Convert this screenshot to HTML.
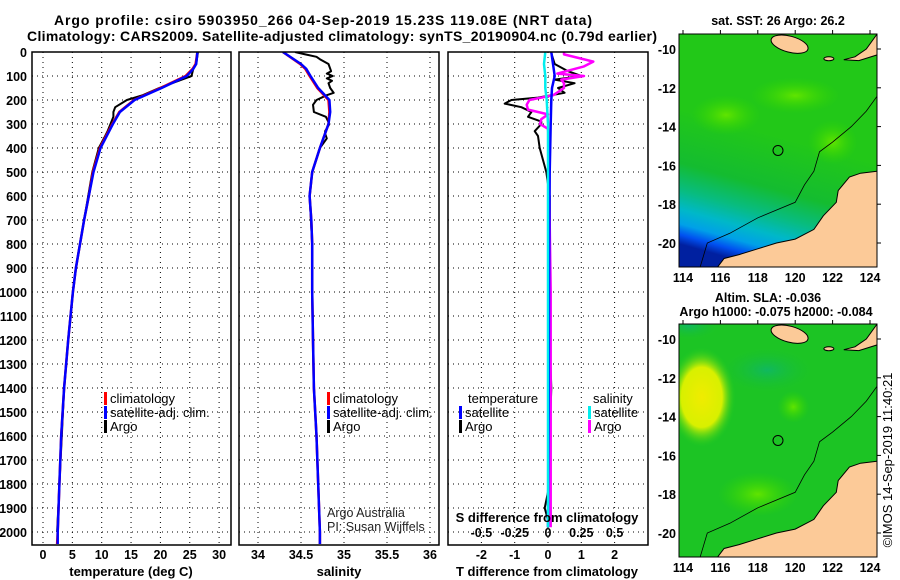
<!DOCTYPE html>
<html><head><meta charset="utf-8"><style>
html,body{margin:0;padding:0;background:#fff;}
svg{display:block;font-family:"Liberation Sans",sans-serif;}
.b{font-weight:bold;}
</style></head><body>
<svg id="fig" width="900" height="580" viewBox="0 0 900 580" xmlns="http://www.w3.org/2000/svg">
<defs>
<linearGradient id="sstg" x1="0.55" y1="0.45" x2="0.42" y2="1">
<stop offset="0" stop-color="#22c818"/><stop offset="0.4" stop-color="#14bc30"/><stop offset="0.6" stop-color="#08bc80"/><stop offset="0.74" stop-color="#00b8c8"/><stop offset="0.85" stop-color="#00a0e8"/><stop offset="0.93" stop-color="#0050f0"/><stop offset="1" stop-color="#0020a0"/>
</linearGradient>
<radialGradient id="yel" cx="0.5" cy="0.5" r="0.5"><stop offset="0" stop-color="#f0ec00"/><stop offset="0.6" stop-color="#d8f000"/><stop offset="1" stop-color="#20cc20" stop-opacity="0"/></radialGradient>
<radialGradient id="lg" cx="0.5" cy="0.5" r="0.5"><stop offset="0" stop-color="#60e400"/><stop offset="1" stop-color="#30d400" stop-opacity="0"/></radialGradient>
<radialGradient id="tq" cx="0.5" cy="0.5" r="0.5"><stop offset="0" stop-color="#10b860"/><stop offset="1" stop-color="#18c030" stop-opacity="0"/></radialGradient>
<clipPath id="c1"><rect x="32" y="52" width="199" height="493"/></clipPath>
<clipPath id="c2"><rect x="239" y="52" width="200" height="493"/></clipPath>
<clipPath id="c3"><rect x="448" y="52" width="200" height="493"/></clipPath>
<clipPath id="m1"><rect x="679" y="34" width="198" height="233"/></clipPath>
<clipPath id="m2"><rect x="679" y="324" width="198" height="233"/></clipPath>
</defs>
<text class="b" x="54" y="25" font-size="14" textLength="538">Argo profile: csiro 5903950_266 04-Sep-2019 15.23S 119.08E (NRT data)</text>
<text class="b" x="27" y="41" font-size="14" textLength="630">Climatology: CARS2009. Satellite-adjusted climatology: synTS_20190904.nc (0.79d earlier)</text>
<g id="plots"></g>
<g id="maps"></g>
<text x="892" y="460" font-size="13" transform="rotate(-90 892 460)" text-anchor="middle">©IMOS 14-Sep-2019 11:40:21</text>
</svg>
<script>
// ---------- data ----------
const depthTicks = [0,100,200,300,400,500,600,700,800,900,1000,1100,1200,1300,1400,1500,1600,1700,1800,1900,2000];
const tempTicks = [0,5,10,15,20,25,30];
const salTicks = [34,34.5,35,35.5,36];
const salTickLabels = ["34","34.5","35","35.5","36"];
const tdiffTicks = [-2,-1,0,1,2];
const sdiffTickLabels = ["-0.5","-0.25","0","0.25","0.5"];
const sdiffTicks = [-0.5,-0.25,0,0.25,0.5];

const climDepth = [0,50,70,100,150,200,250,300,400,500,600,700,800,900,1000,1200,1400,1600,1800,2000,2050];
const climTemp = [26.3,26.0,25.5,24.3,20.0,15.5,13.0,11.8,9.7,8.5,7.8,7.0,6.3,5.6,5.1,4.3,3.6,3.1,2.8,2.5,2.4];
const satTemp = [26.3,26.1,25.6,24.5,20.2,15.6,13.1,11.9,9.8,8.6,7.8,7.0,6.3,5.6,5.1,4.3,3.6,3.1,2.8,2.5,2.5];
const argoDepth = [0,50,70,100,130,150,180,200,230,250,270,300,330,350,400,500,600,700,800,900,1000,1200,1400,1600,1800,1900,2000];
const argoTemp = [26.4,26.1,25.6,25.3,22.0,19.8,17.0,14.3,12.3,12.0,12.0,11.5,11.0,10.6,9.5,8.4,7.7,7.0,6.3,5.6,5.1,4.3,3.6,3.2,2.8,2.6,2.4];

const climSal = [34.29,34.49,34.55,34.6,34.69,34.82,34.83,34.82,34.72,34.63,34.6,34.62,34.63,34.63,34.63,34.64,34.65,34.68,34.7,34.72,34.72];
const satSal = [34.29,34.5,34.56,34.61,34.70,34.83,34.84,34.82,34.72,34.63,34.6,34.62,34.63,34.63,34.63,34.64,34.65,34.68,34.7,34.72,34.72];
const argoSalDepth = [0,10,20,30,50,80,90,100,110,120,130,150,170,180,200,220,250,270,300,330,340,360,400,500,600,800,1000,1200,1400,1600,1800,2000];
const argoSal = [34.43,34.55,34.68,34.72,34.82,34.85,34.80,34.87,34.80,34.86,34.82,34.84,34.88,34.80,34.68,34.64,34.65,34.79,34.83,34.78,34.78,34.8,34.72,34.63,34.6,34.63,34.63,34.64,34.65,34.68,34.7,34.72];

const tdiffDepth = [5,50,80,100,115,130,150,170,190,200,215,230,250,270,290,300,330,350,400,450,500,600,800,1000,1200,1400,1600,1800,1900,1950];
const tdiffArgo = [0.1,0.2,0.6,1.0,0.2,0.8,0.3,0.5,-0.3,-1.1,-1.3,-0.8,-0.5,-0.6,-0.2,-0.2,-0.4,-0.3,-0.25,-0.15,-0.05,0.05,0.05,0.05,0.05,0.1,0.05,0.05,-0.1,0];
const diffSatDepth = [0,50,100,150,200,300,500,1000,1500,1980];
const tdiffSat = [0.1,0.15,0.2,0.12,0.1,0.08,0.05,0.03,0.02,0.0];
const sdiffSat = [-0.02,-0.03,-0.02,-0.02,-0.01,0,0,0,0,0];
const sdiffArgoDepth = [0,10,40,60,90,100,115,130,150,180,200,220,240,260,280,300,320,400,600,1000,1600,1980];
const sdiffArgo = [0.12,0.12,0.34,0.27,0.07,0.27,0.1,0.12,0.12,0.04,-0.14,-0.16,-0.15,0.0,-0.05,-0.06,0.0,0.01,0.01,0.02,0.02,0.02];

// ---------- helpers ----------
const NS = "http://www.w3.org/2000/svg";
function mk(tag, attrs, parent){const e=document.createElementNS(NS,tag);for(const k in attrs)e.setAttribute(k,attrs[k]);parent.appendChild(e);return e;}
const yD = d => 52 + d*0.24;
const xT = v => 43 + v*5.87;
const xS = v => 258 + (v-34)*86;
const xTd = v => 548 + v*33.3;
const xSd = v => 548 + v*133.2;
const plots = document.getElementById('plots');

function line(parent, depths, vals, xf, color, w, name){
  let d = '';
  depths.forEach((dep,i)=>{ d += (i?'L':'M') + xf(vals[i]).toFixed(1) + ' ' + yD(dep).toFixed(1); });
  const p = mk('path',{d:d,fill:'none',stroke:color,'stroke-width':w,'stroke-linejoin':'round'},parent);
  
  
  return p;
}
function panel(x0, x1, clip, ticks, xf, name){
  const g = mk('g',{},plots);
  
  
  depthTicks.forEach(d=>{ mk('line',{x1:x0,x2:x1,y1:yD(d),y2:yD(d),stroke:'#000','stroke-width':1,'stroke-dasharray':'1,4'},g); });
  ticks.forEach(t=>{ mk('line',{x1:xf(t),x2:xf(t),y1:52,y2:545,stroke:'#000','stroke-width':1,'stroke-dasharray':'1,4'},g); });
  const inner = mk('g',{'clip-path':'url(#'+clip+')'},g);
  const fr = mk('rect',{x:x0,y:52,width:x1-x0,height:493,fill:'none',stroke:'#000','stroke-width':1.5},g);
  
  
  return {g:g, inner:inner};
}
function txt(parent, x, y, s, opts){
  const t = mk('text',Object.assign({x:x,y:y,'font-size':13},opts||{}),parent);
  t.textContent = s; return t;
}
function legend(parent, x, y, color, label, name){
  mk('rect',{x:x,y:y-11,width:3,height:13,fill:color},parent);
  const t = txt(parent, x+6, y, label, {'font-size':13});
  
  
}

// Panel 1 temperature
const p1 = panel(32, 231, 'c1', tempTicks, xT, 'temperature-panel');
line(p1.inner, argoDepth, argoTemp, xT, '#000', 2, 'argo-temperature-line');
line(p1.inner, climDepth, climTemp, xT, '#f00', 2.5, 'climatology-temperature-line');
line(p1.inner, climDepth, satTemp, xT, '#00f', 2.5, 'satellite-temperature-line');
depthTicks.forEach(d=>{
  const t = txt(plots, 27, yD(d)+5, String(d), {'text-anchor':'end','class':'b','font-size':12.5});
  
  
});
tempTicks.forEach(v=>{
  const t = txt(plots, xT(v), 559, String(v), {'text-anchor':'middle','font-size':12.5,'class':'b'});
  
  
});
txt(plots, 131, 576, 'temperature (deg C)', {'text-anchor':'middle','class':'b','font-size':13});
legend(plots, 104, 403, '#f00', 'climatology', 'legend-climatology');
legend(plots, 104, 417, '#00f', 'satellite-adj. clim.', 'legend-satellite');
legend(plots, 104, 431, '#000', 'Argo', 'legend-argo');

// Panel 2 salinity
const p2 = panel(239, 439, 'c2', salTicks, xS, 'salinity-panel');
line(p2.inner, argoSalDepth, argoSal, xS, '#000', 2, 'argo-salinity-line');
line(p2.inner, climDepth, climSal, xS, '#f00', 2.5, 'climatology-salinity-line');
line(p2.inner, climDepth, satSal, xS, '#00f', 2.5, 'satellite-salinity-line');
salTicks.forEach((v,i)=>{
  const t = txt(plots, xS(v), 559, salTickLabels[i], {'text-anchor':'middle','font-size':12.5,'class':'b'});
  
  
});
txt(plots, 339, 576, 'salinity', {'text-anchor':'middle','class':'b','font-size':13});
legend(plots, 327, 403, '#f00', 'climatology', 'legend-climatology-2');
legend(plots, 327, 417, '#00f', 'satellite-adj. clim.', 'legend-satellite-2');
legend(plots, 327, 431, '#000', 'Argo', 'legend-argo-2');
txt(plots, 327, 517, 'Argo Australia', {'font-size':12.5,fill:'#222'});
txt(plots, 327, 531, 'PI: Susan Wijffels', {'font-size':12.5,fill:'#222'});

// Panel 3 differences
const p3 = panel(448, 648, 'c3', tdiffTicks, xTd, 'difference-panel');
line(p3.inner, tdiffDepth, tdiffArgo, xTd, '#000', 2, 'argo-temperature-difference-line');
line(p3.inner, sdiffArgoDepth, sdiffArgo, xSd, '#f0f', 2.5, 'argo-salinity-difference-line');
line(p3.inner, diffSatDepth, tdiffSat, xTd, '#00f', 2.5, 'satellite-temperature-difference-line');
line(p3.inner, diffSatDepth, sdiffSat, xSd, '#0ee', 2.5, 'satellite-salinity-difference-line');
tdiffTicks.forEach(v=>{
  const t = txt(plots, xTd(v), 559, String(v), {'text-anchor':'middle','font-size':12.5,'class':'b'});
  
  
});
sdiffTicks.forEach((v,i)=>{
  const t = txt(plots, xSd(v), 537, sdiffTickLabels[i], {'text-anchor':'middle','font-size':12.5,'class':'b'});
  
  
});
txt(plots, 547, 522, 'S difference from climatology', {'text-anchor':'middle','class':'b','font-size':13});
txt(plots, 547, 576, 'T difference from climatology', {'text-anchor':'middle','class':'b','font-size':13});
txt(plots, 468, 403, 'temperature', {'font-size':13});
txt(plots, 593, 403, 'salinity', {'font-size':13});
legend(plots, 459, 417, '#00f', 'satellite', 'legend-temperature-satellite');
legend(plots, 459, 431, '#000', 'Argo', 'legend-temperature-argo');
legend(plots, 588, 417, '#0ee', 'satellite', 'legend-salinity-satellite');
legend(plots, 588, 431, '#f0f', 'Argo', 'legend-salinity-argo');

// ---------- maps ----------
const lonTicks = [114,116,118,120,122,124];
const latTicks = [-10,-12,-14,-16,-18,-20];
const argoLon = 119.08, argoLat = -15.23;
const coastLon = [115.8,116.2,117,118,119,120,121,121.5,122.2,122.3,122.9,123.5,124.4,124.4];
const coastLat = [-21.3,-20.8,-20.6,-20.3,-20.0,-19.8,-19.3,-18.6,-17.9,-17.3,-16.6,-16.4,-16.3,-21.3];
const isoLon = [114.9,115.3,116.5,118.0,120.0,120.5,121.0,121.3,122.0,123.0,123.8,124.4];
const isoLat = [-21.3,-20.0,-19.5,-18.7,-17.9,-17.0,-16.3,-15.3,-14.8,-14.0,-13.2,-12.4];
const timorLon = [122.6,123.2,123.8,124.4,124.4,123.4];
const timorLat = [-10.55,-10.4,-10.0,-9.2,-10.3,-10.6];

const maps = document.getElementById('maps');
function drawMap(yoff, clip, kind, name){
  const px = lon => 683 + (lon-114)*18.7;
  const py = lat => 49 + yoff + (-10-lat)*19.4;
  const g = mk('g',{},maps);
  
  
  const inner = mk('g',{'clip-path':'url(#'+clip+')'},g);
  if(kind==='sst'){
    mk('rect',{x:679,y:34+yoff,width:198,height:233,fill:'url(#sstg)'},inner);
    mk('ellipse',{cx:px(120),cy:py(-12.4),rx:45,ry:18,fill:'url(#lg)'},inner);
    mk('ellipse',{cx:px(116.3),cy:py(-13.4),rx:35,ry:20,fill:'url(#lg)'},inner);
    mk('ellipse',{cx:px(122),cy:py(-14.8),rx:25,ry:22,fill:'url(#lg)'},inner);
  } else {
    mk('rect',{x:679,y:34+yoff,width:198,height:233,fill:'#1cc424'},inner);
    mk('ellipse',{cx:px(114.3),cy:py(-9.3),rx:30,ry:14,fill:'url(#tq)'},inner);
    mk('ellipse',{cx:px(118.5),cy:py(-11.6),rx:45,ry:22,fill:'url(#tq)'},inner);
    mk('ellipse',{cx:px(115),cy:py(-13),rx:34,ry:50,fill:'url(#yel)'},inner);
    mk('ellipse',{cx:px(119.9),cy:py(-13.5),rx:16,ry:16,fill:'url(#lg)'},inner);
    mk('ellipse',{cx:px(118),cy:py(-18),rx:40,ry:22,fill:'url(#lg)'},inner);
  }
  let d='';
  coastLon.forEach((l,i)=>{ d += (i?'L':'M')+px(l).toFixed(1)+' '+py(coastLat[i]).toFixed(1); });
  mk('path',{d:d+'Z',fill:'#fcca98',stroke:'#000','stroke-width':1},inner);
  let d2='';
  timorLon.forEach((l,i)=>{ d2 += (i?'L':'M')+px(l).toFixed(1)+' '+py(timorLat[i]).toFixed(1); });
  mk('path',{d:d2+'Z',fill:'#fcca98',stroke:'#000','stroke-width':1},inner);
  mk('ellipse',{cx:px(119.7),cy:py(-9.75),rx:19,ry:8,fill:'#fcca98',stroke:'#000','stroke-width':1,transform:'rotate(15 '+px(119.7)+' '+py(-9.75)+')'},inner);
  mk('ellipse',{cx:px(121.8),cy:py(-10.5),rx:5,ry:2,fill:'#fcca98',stroke:'#000','stroke-width':1},inner);
  let d3='';
  isoLon.forEach((l,i)=>{ d3 += (i?'L':'M')+px(l).toFixed(1)+' '+py(isoLat[i]).toFixed(1); });
  mk('path',{d:d3,fill:'none',stroke:'#000','stroke-width':0.8},inner);
  const c = mk('circle',{cx:px(argoLon),cy:py(argoLat),r:5,fill:'none',stroke:'#000','stroke-width':1},g);
  
  
  mk('rect',{x:679,y:34+yoff,width:198,height:233,fill:'none',stroke:'#000','stroke-width':1},g);
  lonTicks.forEach(l=>{
    mk('line',{x1:px(l),x2:px(l),y1:34+yoff,y2:30+yoff,stroke:'#000'},g);
    const t = txt(g, px(l), 282+yoff, String(l), {'text-anchor':'middle','class':'b','font-size':12.5});
    
    
  });
  latTicks.forEach(l=>{
    mk('line',{x1:877,x2:881,y1:py(l),y2:py(l),stroke:'#000'},g);
    const t = txt(g, 676, py(l)+5, String(l), {'text-anchor':'end','class':'b','font-size':12.5});
    
    
  });
}
drawMap(0, 'm1', 'sst', 'sst-map');
drawMap(290, 'm2', 'sla', 'sla-map');
txt(maps, 778, 25, 'sat. SST: 26 Argo: 26.2', {'text-anchor':'middle','class':'b','font-size':12.5});
txt(maps, 768, 302, 'Altim. SLA: -0.036', {'text-anchor':'middle','class':'b','font-size':12.5});
txt(maps, 776, 316, 'Argo h1000: -0.075 h2000: -0.084', {'text-anchor':'middle','class':'b','font-size':12.5});
</script>
</body></html>
